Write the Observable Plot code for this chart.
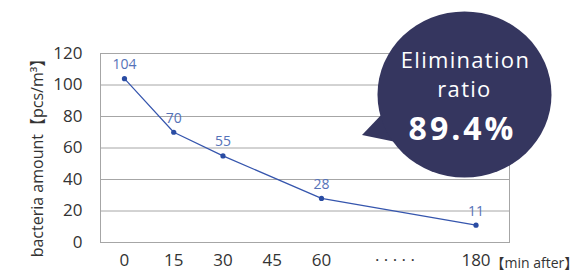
<!DOCTYPE html>
<html><head><meta charset="utf-8">
<script src="https://cdn.jsdelivr.net/npm/d3@7"></script>
<script src="https://cdn.jsdelivr.net/npm/@observablehq/plot@0.6"></script>
<style>body{margin:0;background:#fff;} svg{display:block}</style>
</head><body><div id="chart"></div>
<script>
const minutes = [0, 15, 30, 60, 180];
const bacteria = [104, 70, 55, 28, 11];
const xTickValues = [0, 15, 30, 45, 60, 117, 180];
const xTickLabels = ["0", "15", "30", "45", "60", "· · · · ·", "180"];
const yTickValues = [0, 20, 40, 60, 80, 100, 120];
const yLabel = "bacteria amount【pcs/m³】";
const xUnit = "【min after】";
const bubbleLines = ["Elimination", "ratio", "89.4%"];

const data = minutes.map((m, i) => ({minute: m, value: bacteria[i]}));
const font = "'Open Sans', 'Noto Sans CJK JP', sans-serif";

const plot = Plot.plot({
  width: 585, height: 279,
  marginLeft: 100, marginRight: 76, marginTop: 53, marginBottom: 37,
  style: {fontFamily: font, background: "#fff", color: "#333"},
  x: {type: "linear", domain: [-7.3, 60, 180, 206.5], range: [100, 321, 475.5, 509]},
  y: {domain: [0, 120]},
  marks: [
    Plot.gridY(yTickValues, {stroke: "#a6a6a6", strokeOpacity: 1}),
    Plot.frame({stroke: "#a6a6a6"}),
    Plot.axisY({ticks: yTickValues, tickSize: 0, tickPadding: 18, fontSize: 17, label: null}),
    Plot.axisX({ticks: xTickValues, tickSize: 0, tickPadding: 11, fontSize: 17, label: null,
      tickFormat: (d) => xTickLabels[xTickValues.indexOf(d)]}),
    Plot.text([yLabel], {frameAnchor: "left", textAnchor: "middle", lineAnchor: "middle", dx: -63, dy: 6, rotate: -90, fontSize: 16, fill: "#333"}),
    Plot.line(data, {x: "minute", y: "value", stroke: "#3555ad", strokeWidth: 1.2}),
    Plot.dot(data, {x: "minute", y: "value", r: 2.6, fill: "#2a4ca3"}),
    Plot.text(data, {x: "minute", y: "value", text: d => String(d.value), dy: -14, fontSize: 14, fill: "#5572b8"})
  ]
});
document.getElementById("chart").appendChild(plot);

const svg = d3.select(plot);
const xs = plot.scale("x");
// Unit label after 180
svg.append("text")
  .attr("x", xs.apply(180) + 15).attr("y", 268)
  .attr("text-anchor", "start")
  .attr("font-size", 14).attr("fill", "#333").attr("font-family", font)
  .text(xUnit);

// Bubble annotation
const g = svg.append("g").attr("text-anchor", "middle");
const cx = 464.5, cy = 94.5;
const navy = "#35365f";
g.append("polygon").attr("points", "384,112 362,135 396,142 420,120").attr("fill", navy);
g.append("ellipse").attr("cx", cx).attr("cy", cy).attr("rx", 87).attr("ry", 83).attr("fill", navy);
g.append("text").attr("x", cx + 1).attr("y", 68)
  .attr("font-size", 22).attr("letter-spacing", 1.3).attr("fill", "#fff").attr("font-family", font)
  .text(bubbleLines[0]);
g.append("text").attr("x", cx).attr("y", 97)
  .attr("font-size", 22).attr("letter-spacing", 1.3).attr("fill", "#fff").attr("font-family", font)
  .text(bubbleLines[1]);
g.append("text").attr("x", cx - 2).attr("y", 140)
  .attr("font-size", 32).attr("font-weight", "bold").attr("letter-spacing", 3).attr("fill", "#fff").attr("font-family", font)
  .text(bubbleLines[2]);
</script>
</body></html>
